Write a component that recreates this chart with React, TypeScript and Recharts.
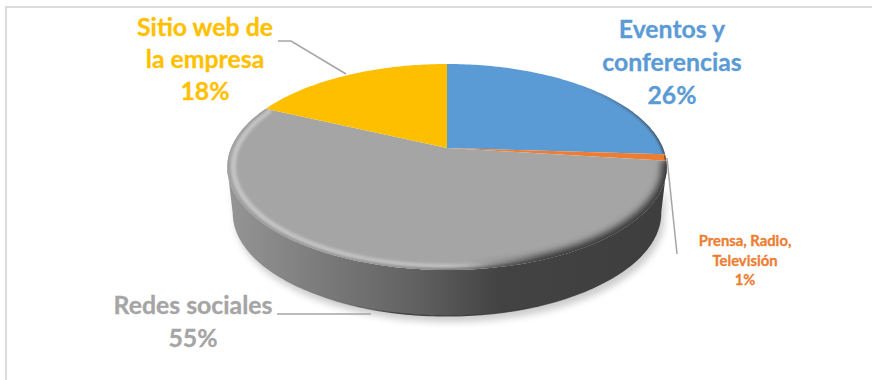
import React from 'react';
import { PieChart, Pie } from 'recharts';

// Marketing channel shares, in percent
const categories = ['Eventos y conferencias', 'Prensa, Radio, Televisión', 'Redes sociales', 'Sitio web de la empresa'];
const shares = [26, 1, 55, 18];
const sliceColors = ['#5B9BD5', '#ED7D31', '#A5A5A5', '#FDBF00'];
const labelColors = ['#5B9BD5', '#ED7D31', '#A5A5A5', '#FFC000'];

const labelRows = [
  ['Eventos y', 'conferencias'],
  ['Prensa, Radio,', 'Televisión'],
  ['Redes sociales'],
  ['Sitio web de', 'la empresa'],
];

// Where each callout sits on the canvas
const labelLayout = [
  { x: 672, y: 38, step: 33, size: 24.8 },
  { x: 745, y: 246, step: 19.5, size: 14.8 },
  { x: 193, y: 314, step: 33, size: 24.8 },
  { x: 205, y: 36, step: 32, size: 24.8 },
];
const leaders: (number[][] | null)[] = [
  null,
  [[667, 158], [677, 254]],
  [[277, 314], [371, 314]],
  [[278, 41], [291, 41], [346, 74]],
];

const tableData = categories.map((name, i) => ({ name, value: shares[i], fill: sliceColors[i] }));

// Tilted-disc projection: a homography that turns the pie's circle into a
// perspective ellipse, with the centre sitting behind the ellipse's middle.
const PERSPECTIVE = 0.1845;
const TILT = 0.4606;
const DEPTH = 46;
const BASE_SCALE = 0.975;

type Pt = [number, number];

const project = (cx: number, cy: number, r: number, deg: number): Pt => {
  const a = (deg * Math.PI) / 180;
  const u = Math.cos(a);
  const v = Math.sin(a);
  const w = 1 + PERSPECTIVE * v;
  return [cx + (r * u) / w, cy - (r * TILT * v) / w];
};

const arcPoints = (cx: number, cy: number, r: number, from: number, to: number): Pt[] => {
  const n = Math.max(2, Math.ceil(Math.abs(to - from)));
  const pts: Pt[] = [];
  for (let i = 0; i <= n; i++) pts.push(project(cx, cy, r, from + ((to - from) * i) / n));
  return pts;
};

const toPath = (pts: Pt[], close = false) =>
  pts.map((p, i) => `${i ? 'L' : 'M'}${p[0].toFixed(2)} ${p[1].toFixed(2)}`).join(' ') + (close ? ' Z' : '');

// Index of the arc sample furthest along x, used to find the wall's silhouette
const extremeIndex = (pts: Pt[], sign: number) =>
  pts.reduce((best, p, i) => (sign * p[0] > sign * pts[best][0] ? i : best), 0);

// Draws one slice of the disc; the slice that faces the viewer also gets the wall and bevel.
const DiscSlice = (props: any) => {
  const { cx, cy, outerRadius, startAngle, endAngle, fill, index } = props;
  const arc = arcPoints(cx, cy, outerRadius, startAngle, endAngle);
  const face = toPath([[cx, cy], ...arc], true);
  const clipId = `slice-clip-${index}`;
  const left = cx - outerRadius;
  const right = cx + outerRadius;
  const facesViewer = Math.min(startAngle, endAngle) <= -90 && Math.max(startAngle, endAngle) >= -90;

  if (!facesViewer) {
    // Back slices only darken where they roll over the right-hand edge
    return (
      <g>
        <defs>
          <linearGradient id={`roll-${index}`} gradientUnits="userSpaceOnUse" x1={left} x2={right + 4} y1={0} y2={0}>
            <stop offset="0.8" stopColor="#3e3e3e" stopOpacity="0" />
            <stop offset="1" stopColor="#3e3e3e" stopOpacity="0.75" />
          </linearGradient>
          <filter id={`roll-blur-${index}`} x="-20%" y="-20%" width="140%" height="140%">
            <feGaussianBlur stdDeviation="1" />
          </filter>
          <clipPath id={clipId}>
            <path d={face} />
          </clipPath>
        </defs>
        <path d={face} fill={fill} />
        <g clipPath={`url(#${clipId})`}>
          <path d={toPath(arc)} fill="none" stroke={`url(#roll-${index})`} strokeWidth={4} filter={`url(#roll-blur-${index})`} />
        </g>
      </g>
    );
  }

  const front = arc.slice(extremeIndex(arc, 1), extremeIndex(arc, -1) + 1);
  const base: Pt[] = front.map(([x, y]) => [cx + (x - cx) * BASE_SCALE, y + DEPTH]);
  const wall = toPath([...front, ...base.slice().reverse()], true);
  const inner = arcPoints(cx, cy, outerRadius * 0.972, startAngle, endAngle);
  return (
    <g>
      <defs>
        <linearGradient id="wall-shade" gradientUnits="userSpaceOnUse" x1={left} x2={right} y1={0} y2={0}>
          <stop offset="0" stopColor="#949494" />
          <stop offset="0.2" stopColor="#7c7c7c" />
          <stop offset="0.42" stopColor="#626262" />
          <stop offset="0.62" stopColor="#434343" />
          <stop offset="1" stopColor="#3e3e3e" />
        </linearGradient>
        <linearGradient id="rim-shade" gradientUnits="userSpaceOnUse" x1={left} x2={right} y1={0} y2={0}>
          <stop offset="0" stopColor="#9c9c9c" />
          <stop offset="0.4" stopColor="#868686" />
          <stop offset="0.65" stopColor="#484848" />
          <stop offset="1" stopColor="#3e3e3e" />
        </linearGradient>
        <linearGradient id="bevel-shade" gradientUnits="userSpaceOnUse" x1={left} x2={right} y1={0} y2={0}>
          <stop offset="0" stopColor="#c6c6c6" />
          <stop offset="0.5" stopColor="#c2c2c2" />
          <stop offset="0.6" stopColor="#a8a8a8" />
          <stop offset="1" stopColor="#a5a5a5" />
        </linearGradient>
        <linearGradient id="shade-roll" gradientUnits="userSpaceOnUse" x1={left} x2={right} y1={0} y2={0}>
          <stop offset="0.55" stopColor="#3e3e3e" stopOpacity="0" />
          <stop offset="0.72" stopColor="#3e3e3e" stopOpacity="0.9" />
          <stop offset="1" stopColor="#3e3e3e" stopOpacity="0.9" />
        </linearGradient>
        <linearGradient id="edge-shade" gradientUnits="userSpaceOnUse" x1={left} x2={right} y1={0} y2={0}>
          <stop offset="0.2" stopColor="#333" stopOpacity="0" />
          <stop offset="0.4" stopColor="#333" stopOpacity="0.9" />
          <stop offset="0.7" stopColor="#333" stopOpacity="0.7" />
          <stop offset="0.85" stopColor="#333" stopOpacity="0" />
        </linearGradient>
        <filter id="soft-shadow" x="-10%" y="-20%" width="120%" height="150%">
          <feGaussianBlur stdDeviation="3.5" />
        </filter>
        <filter id="soft-bevel" x="-10%" y="-10%" width="120%" height="120%">
          <feGaussianBlur stdDeviation="1.5" />
        </filter>
        <filter id="soft-roll" x="-10%" y="-10%" width="120%" height="120%">
          <feGaussianBlur stdDeviation="3" />
        </filter>
        <clipPath id={clipId}>
          <path d={face} />
        </clipPath>
      </defs>
      <path d={wall} fill="#000" opacity={0.2} filter="url(#soft-shadow)" transform="translate(3 6)" />
      <path d={wall} fill="url(#wall-shade)" />
      <path d={toPath(base)} fill="none" stroke="url(#edge-shade)" strokeWidth={1.2} />
      <path d={face} fill={fill} />
      <g clipPath={`url(#${clipId})`}>
        <path d={toPath(inner)} fill="none" stroke="url(#bevel-shade)" strokeWidth={5} filter="url(#soft-bevel)" />
        <path d={toPath(arc)} fill="none" stroke="url(#rim-shade)" strokeWidth={3} filter="url(#soft-bevel)" />
        <path d={toPath(arc.slice(0, arc.length - 40))} fill="none" stroke="url(#shade-roll)" strokeWidth={12} filter="url(#soft-roll)" />
      </g>
    </g>
  );
};

// Callout text and its leader line, one per slice
const Callout = (props: any) => {
  const i: number = props.index;
  const pos = labelLayout[i];
  const rows = [...labelRows[i], `${shares[i]}%`];
  const line = leaders[i];
  return (
    <g>
      {line && (
        <polyline
          points={line.map((p) => p.join(',')).join(' ')}
          fill="none"
          stroke="#A5A5A5"
          strokeWidth={1.5}
        />
      )}
      <text
        textAnchor="middle"
        fontFamily="Lato, Carlito, sans-serif"
        fontWeight={700}
        fontSize={pos.size}
        fill={labelColors[i]}
        stroke={labelColors[i]}
        strokeWidth={0.3}
      >
        {rows.map((row, k) => (
          <tspan key={k} x={pos.x} y={pos.y + k * pos.step}>
            {row}
          </tspan>
        ))}
      </text>
    </g>
  );
};

export default function App() {
  return (
    <div style={{ position: 'absolute', left: 0, top: 0, width: 872, height: 380, background: '#fff', overflow: 'hidden' }}>
      <div
        style={{
          position: 'absolute',
          left: 5,
          top: 6,
          width: 900,
          height: 500,
          border: '2px solid #dcdcdc',
        }}
      />
      <div style={{ position: 'absolute', left: 0, top: 0, width: 872, height: 380 }}>
        <PieChart width={872} height={380} margin={{ top: 0, right: 0, bottom: 0, left: 0 }}>
          <Pie
            data={tableData}
            dataKey="value"
            nameKey="name"
            cx={447}
            cy={148}
            innerRadius={0}
            outerRadius={216}
            startAngle={90}
            endAngle={-270}
            stroke="none"
            shape={DiscSlice}
            label={Callout}
            labelLine={false}
            isAnimationActive={false}
          />
        </PieChart>
      </div>
    </div>
  );
}
